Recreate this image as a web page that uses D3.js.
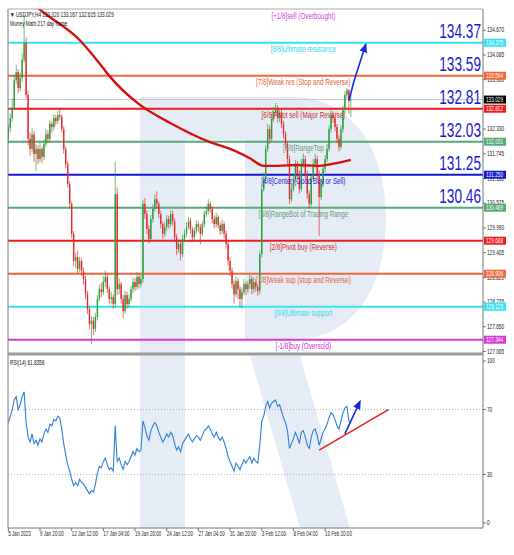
<!DOCTYPE html>
<html><head><meta charset="utf-8">
<script src="https://cdn.jsdelivr.net/npm/d3@7"></script>
<style>body{margin:0;background:#fff}svg{display:block}</style>
</head><body><svg id="c" width="514" height="555"></svg>
<script>
// ---------- DATA ----------
const firstOpen = 132.10;
const closes = [132.36,132.59,132.83,133.49,133.68,133.30,133.54,133.97,134.37,133.14,
132.10,131.86,132.20,131.74,131.86,131.62,131.86,131.67,131.98,132.21,
132.10,132.45,132.38,132.59,132.52,132.66,132.62,132.33,131.86,131.50,
131.03,130.56,129.85,129.21,129.30,129.02,129.21,128.97,128.78,128.42,
128.07,127.71,127.79,127.60,127.88,128.31,128.54,128.47,128.71,128.83,
128.54,128.31,128.35,128.19,130.79,128.54,128.66,128.31,128.02,128.40,
128.19,128.31,128.54,128.71,128.59,128.83,128.66,128.78,130.56,130.32,
129.96,129.73,130.20,130.44,130.67,130.56,130.32,130.08,129.85,130.01,
130.20,130.08,130.32,130.15,129.77,129.49,129.61,129.37,129.73,129.85,
130.01,130.15,129.96,129.77,129.92,130.08,130.01,129.85,130.08,130.32,
130.39,130.56,130.44,130.20,130.08,130.25,130.06,129.92,130.08,129.85,
129.61,129.21,128.97,128.66,128.42,128.73,128.54,128.31,128.47,128.66,
128.54,128.66,128.78,128.54,128.71,128.59,128.50,129.37,130.91,131.15,
131.86,132.33,132.10,132.57,132.73,132.83,132.59,132.73,132.45,132.21,
131.98,131.62,130.67,130.91,131.15,131.50,131.27,130.91,131.50,131.62,
131.27,130.79,130.56,131.15,131.50,131.62,131.27,130.72,131.03,131.39,
131.62,131.86,132.33,132.66,132.59,132.38,132.10,131.91,132.33,132.78,
133.14,133.25,133.02,133.029];
const highs = [132.45,132.70,133.05,133.62,133.85,133.75,133.66,134.12,135.03,134.50,
133.25,132.25,132.35,132.28,131.98,131.95,132.00,131.92,132.08,132.33,
132.30,132.55,132.52,132.68,132.66,132.75,132.80,132.68,132.40,131.92,
131.58,131.10,130.62,129.92,129.40,129.45,129.30,129.28,129.05,128.85,
128.50,128.15,127.90,127.88,127.98,128.40,128.65,128.70,128.85,128.98,
128.90,128.60,128.48,128.42,131.55,130.95,128.80,128.72,128.40,128.50,
128.48,128.42,128.62,128.82,128.80,128.95,128.92,128.88,130.65,130.70,
130.40,130.05,130.30,130.55,130.78,130.86,130.62,130.40,130.15,130.12,
130.30,130.28,130.42,130.40,130.22,129.85,129.72,129.68,129.82,129.95,
130.12,130.25,130.22,130.02,130.00,130.18,130.15,130.08,130.15,130.40,
130.50,130.67,130.62,130.50,130.28,130.35,130.30,130.12,130.18,130.14,
129.92,129.68,129.30,129.05,128.75,128.85,128.80,128.62,128.58,128.78,
128.72,128.75,128.88,128.85,128.82,128.78,128.66,129.45,131.00,131.30,
131.95,132.45,132.42,132.68,132.85,132.95,132.90,132.82,132.80,132.52,
132.28,132.05,131.70,131.05,131.28,131.60,131.58,131.35,131.62,131.75,
131.70,131.35,130.88,131.25,131.62,131.75,131.70,131.35,131.15,131.48,
131.72,131.98,132.42,132.78,132.75,132.65,132.45,132.18,132.42,132.88,
133.22,133.30,133.28,133.167];
const lows = [131.98,132.25,132.50,132.78,133.40,133.18,133.22,133.45,133.90,133.05,
131.95,131.70,131.78,131.55,131.34,131.50,131.55,131.52,131.60,131.90,
132.00,132.02,132.25,132.30,132.42,132.45,132.55,132.25,131.75,131.40,
130.95,130.45,129.75,129.10,129.05,128.92,128.95,128.85,128.65,128.30,
127.95,127.60,127.24,127.45,127.52,127.80,128.25,128.35,128.40,128.60,
128.45,128.20,128.18,128.08,128.10,128.40,128.42,128.20,127.85,127.95,
128.08,128.10,128.25,128.45,128.50,128.52,128.55,128.58,128.70,130.20,
129.85,129.62,129.65,130.12,130.38,130.45,130.22,129.98,129.72,129.78,
129.92,129.98,130.00,130.05,129.65,129.35,129.40,129.22,129.30,129.65,
129.78,129.95,129.85,129.66,129.70,129.85,129.90,129.60,129.80,130.00,
130.25,130.30,130.35,130.10,129.98,130.00,129.98,129.82,129.85,129.75,
129.50,129.10,128.85,128.55,128.20,128.35,128.30,128.12,128.08,128.40,
128.40,128.45,128.55,128.42,128.45,128.48,128.38,128.42,129.30,130.85,
131.08,131.78,131.98,132.02,132.50,132.65,132.48,132.50,132.35,132.10,
131.85,131.50,130.55,130.60,130.85,131.08,131.15,130.80,130.85,131.42,
131.15,130.68,130.45,130.50,131.08,131.42,131.15,129.80,130.65,130.95,
131.30,131.55,131.80,132.25,132.48,132.28,132.00,131.80,131.85,132.25,
132.70,133.05,132.70,132.615];
// moving average (read at selected bars)
const maIdx = [0,15,36,46,51,66,82,102,112,122,129,136,146,156,163,173];
const maVal = [135.91,135.20,134.44,133.89,133.59,132.92,132.47,132.02,131.86,131.64,131.46,131.46,131.48,131.46,131.50,131.60];
const rsi = [62,66,70,76,78,70,73,78,81,62,
53,50,55,49,51,48,52,50,55,58,
56,61,60,64,63,66,65,58,49,42,
36,32,27,23,25,23,27,25,24,22,
20,18,20,19,24,31,35,34,38,40,
36,33,34,32,60,38,40,36,33,38,
36,38,41,44,42,46,44,45,63,59,
54,51,57,60,62,60,56,53,50,52,
55,53,56,54,49,45,47,44,49,51,
53,55,52,50,52,54,53,51,54,57,
58,60,58,55,53,56,53,51,53,50,
46,41,38,35,32,37,35,33,36,39,
37,39,41,37,40,38,37,48,63,66,
72,75,71,74,75,76,72,73,69,65,
62,57,46,49,52,56,53,49,56,57,
53,48,46,53,57,58,54,48,52,56,
58,61,65,68,67,64,60,58,63,68,
71,72,63,61.84];
const mmValues = [135.156,134.375,133.594,132.812,132.031,131.250,130.469,129.688,128.906,128.125,127.344];
const mmLabels = ["[+1/8]sell (Overbought)","[8/8]Ultimate resistance","[7/8]Weak res (Stop and Reverse)","[6/8]Pivot sell (Major Reverse)","[5/8]RangeTop","[4/8]Center (Good Buy or Sell)","[3/8]RangeBot of Trading Range","[2/8]Pivot buy (Reverse)","[1/8]Weak sup (stop and Reverse)","[0/8]Ultimate support","[-1/8]buy (Oversold)"];
const mmTags = ["","134.375","133.594","132.812","132.031","131.250","130.469","129.688","128.906","128.125","127.344"];
const bigLevels = [134.375,133.594,132.812,132.031,131.250,130.469];
const bigLabels = ["134.37","133.59","132.81","132.03","131.25","130.46"];
const priceTicks = [127.065,127.650,128.235,128.820,129.405,129.990,130.575,131.160,131.745,132.330,133.500,134.085,134.670];
const rsiTicks = [0,30,70,100];
const dateIdx = [0,16,32,48,64,80,96,112,128,144,160];
const dateLabels = ["5 Jan 2023","9 Jan 20:00","12 Jan 12:00","17 Jan 04:00","19 Jan 20:00","24 Jan 12:00","27 Jan 04:00","31 Jan 20:00","3 Feb 12:00","8 Feb 04:00","10 Feb 20:00"];
const lastPrice = 133.029;
const priceArrow = [[172,133.00],[174.5,133.45],[180.5,134.33]];
const rsiArrow = [[170,55],[177.6,75]];
const rsiTrend = [[157,45],[192,70]];
const header1 = "\u25BC USDJPY,H4  133.020 133.167 132.615 133.029";
const header2 = "Murrey Math 217 day frame";
const rsiHeader = "RSI(14) 61.8358";

// ---------- LAYOUT ----------
const L=8, R=483, T=9, B=352, RT=356, RB=528;
const svg = d3.select("#c");
const x = d3.scaleLinear().domain([0,173]).range([8.3,350.84]);
const y = d3.scaleLinear().domain([127.053,135.173]).range([B,T]);
const yr = d3.scaleLinear().domain([0,100]).range([523,361]);
const mmColors = ["#e040e0","#35e2f2","#f0663a","#ee1c1c","#55a878","#1616cc","#55a878","#ee1c1c","#f0663a","#35e2f2","#d63ad6"];
const txtColors = ["#d040d8","#35d8ee","#e06040","#c83030","#5a9a78","#2020cc","#5a9a78","#c83030","#e06040","#35d8ee","#cc30cc"];
const FONT = "'Liberation Sans', Arial, sans-serif";
function sq(sel, f){ sel.each(function(){ const t=d3.select(this); const xx=+t.attr("x"), yy=+t.attr("y");
  t.attr("x",0).attr("y",0).attr("transform",`translate(${xx},${yy}) scale(${f},1)`); }); }

const defs = svg.append("defs");
defs.append("clipPath").attr("id","cm").append("rect").attr("x",L).attr("y",T).attr("width",R-L).attr("height",B-T);
defs.append("clipPath").attr("id","cr").append("rect").attr("x",L).attr("y",RT).attr("width",R-L).attr("height",RB-RT);
defs.append("marker").attr("id","ah").attr("viewBox","0 0 10 10").attr("refX",8).attr("refY",5)
  .attr("markerWidth",6).attr("markerHeight",6).attr("orient","auto")
  .append("path").attr("d","M0,1 L10,5 L0,9 Z").attr("fill","#1030e0");

// watermark
const wm = svg.append("g").attr("fill","#e6ecf5");
wm.append("path").attr("d","M140,97 H185 V528 H140 Z");
wm.append("path").attr("d","M185,97 H292 C352,97 386,150 386,218 C386,292 350,340 292,340 H245 V140 H185 Z");
wm.append("path").attr("d","M250,356 H300 L350,528 H300 Z");

// main panel
const gm = svg.append("g").attr("clip-path","url(#cm)");
gm.selectAll("line.mm").data(mmValues.slice(1)).join("line")
  .attr("x1",L).attr("x2",R).attr("y1",d=>y(d)).attr("y2",d=>y(d))
  .attr("stroke",(d,i)=>mmColors[i+1]).attr("stroke-width",2);
gm.append("line").attr("x1",L).attr("x2",R).attr("y1",y(lastPrice)).attr("y2",y(lastPrice)).attr("stroke","#c8c8c8").attr("stroke-width",1);

const cg = gm.append("g");
closes.forEach((c,i)=>{
  const o = i===0 ? firstOpen : closes[i-1];
  const col = c>=o ? "#2a9d3a" : "#e52a2a";
  cg.append("line").attr("x1",x(i)).attr("x2",x(i)).attr("y1",y(highs[i])).attr("y2",y(lows[i])).attr("stroke",col).attr("stroke-width",0.9).attr("opacity",0.75);
  const y0=y(Math.max(o,c)), y1=y(Math.min(o,c));
  cg.append("rect").attr("x",x(i)-0.7).attr("width",1.4).attr("y",y0).attr("height",Math.max(0.8,y1-y0)).attr("fill",col);
});
gm.append("path").datum(maIdx.map((d,k)=>[d,maVal[k]]))
  .attr("d", d3.line().x(d=>x(d[0])).y(d=>y(d[1])).curve(d3.curveMonotoneX))
  .attr("fill","none").attr("stroke","#d41010").attr("stroke-width",2.4);

// murrey labels
const lab = svg.append("g").attr("font-family",FONT).attr("font-size",9.5).attr("text-anchor","middle");
lab.selectAll("text").data(mmLabels).join("text")
  .attr("x", x(149)).attr("y",(d,i)=>y(mmValues[i])+9)
  .attr("fill",(d,i)=>txtColors[i]).text(d=>d).call(sq,0.66);

// big numbers
svg.append("g").attr("font-family",FONT).attr("font-size",19.5).attr("text-anchor","end").attr("fill","#1a1ad2")
  .selectAll("text").data(bigLabels).join("text")
  .attr("x",481).attr("y",(d,i)=>y(bigLevels[i])-5).text(d=>d).call(sq,0.7);

// price arrow
svg.append("path").datum(priceArrow)
  .attr("d", d3.line().x(d=>x(d[0])).y(d=>y(d[1])))
  .attr("fill","none").attr("stroke","#1030e0").attr("stroke-width",1.6).attr("marker-end","url(#ah)");

// RSI panel
const gr = svg.append("g").attr("clip-path","url(#cr)");
[30,70].forEach(v=>gr.append("line").attr("x1",L).attr("x2",R).attr("y1",yr(v)).attr("y2",yr(v))
  .attr("stroke","#b0b0b0").attr("stroke-dasharray","1,2"));
gr.append("path").datum(rsi)
  .attr("d", d3.line().x((d,i)=>x(i)).y(d=>yr(d)))
  .attr("fill","none").attr("stroke","#2f7fd8").attr("stroke-width",1.1);
gr.append("path").datum(rsiTrend)
  .attr("d", d3.line().x(d=>x(d[0])).y(d=>yr(d[1])))
  .attr("stroke","#e52020").attr("stroke-width",1.6);
gr.append("path").datum(rsiArrow)
  .attr("d", d3.line().x(d=>x(d[0])).y(d=>yr(d[1])))
  .attr("stroke","#1030e0").attr("stroke-width",1.6).attr("marker-end","url(#ah)");

// frames
const fr = svg.append("g").attr("stroke","#777").attr("fill","none");
fr.append("line").attr("x1",L).attr("x2",L).attr("y1",T).attr("y2",RB);
fr.append("line").attr("x1",R).attr("x2",R).attr("y1",T).attr("y2",RB);
fr.append("line").attr("x1",L).attr("x2",R).attr("y1",T).attr("y2",T).attr("stroke","#aaa");
fr.append("line").attr("x1",L).attr("x2",R).attr("y1",RB).attr("y2",RB);
svg.append("rect").attr("x",L).attr("y",B+0.5).attr("width",R-L).attr("height",3).attr("fill","#9a9a9a");

// right axis ticks
const ax = svg.append("g").attr("font-family",FONT).attr("font-size",6.3).attr("fill","#222");
priceTicks.forEach(v=>{
  ax.append("line").attr("x1",R).attr("x2",R+3).attr("y1",y(v)).attr("y2",y(v)).attr("stroke","#777");
  ax.append("text").attr("x",R+4).attr("y",y(v)+2.2).text(v.toFixed(3));
});
rsiTicks.forEach(v=>{
  ax.append("line").attr("x1",R).attr("x2",R+3).attr("y1",yr(v)).attr("y2",yr(v)).attr("stroke","#777");
  ax.append("text").attr("x",R+4).attr("y",yr(v)+2.2).text(v);
});
ax.selectAll("text").call(sq,0.75);

// tags
const tg = svg.append("g").attr("font-family",FONT).attr("font-size",6.3);
mmTags.forEach((t,i)=>{
  if(!t) return;
  tg.append("rect").attr("x",R+1).attr("y",y(mmValues[i])-4).attr("width",22).attr("height",8).attr("fill",mmColors[i]);
  tg.append("text").attr("x",R+3).attr("y",y(mmValues[i])+2.2).attr("fill","#fff").text(t);
});
tg.append("rect").attr("x",R+1).attr("y",y(lastPrice)-4).attr("width",22).attr("height",8).attr("fill","#000");
tg.append("text").attr("x",R+3).attr("y",y(lastPrice)+2.2).attr("fill","#fff").text(lastPrice.toFixed(3));
tg.selectAll("text").call(sq,0.75);

// date axis
const dx = svg.append("g").attr("font-family",FONT).attr("font-size",6.5).attr("fill","#222");
dateIdx.forEach((d,k)=>{
  dx.append("line").attr("x1",x(d)).attr("x2",x(d)).attr("y1",RB).attr("y2",RB+3).attr("stroke","#777");
  dx.append("text").attr("x",x(d)).attr("y",RB+8).text(dateLabels[k]);
});
dx.selectAll("text").call(sq,0.7);

// headers
const hd = svg.append("g").attr("font-family",FONT).attr("font-size",6.5).attr("fill","#111");
hd.append("text").attr("x",10).attr("y",17).text(header1);
hd.append("text").attr("x",10).attr("y",26).text(header2);
hd.append("text").attr("x",10).attr("y",365).text(rsiHeader);
hd.selectAll("text").call(sq,0.72);
</script></body></html>
